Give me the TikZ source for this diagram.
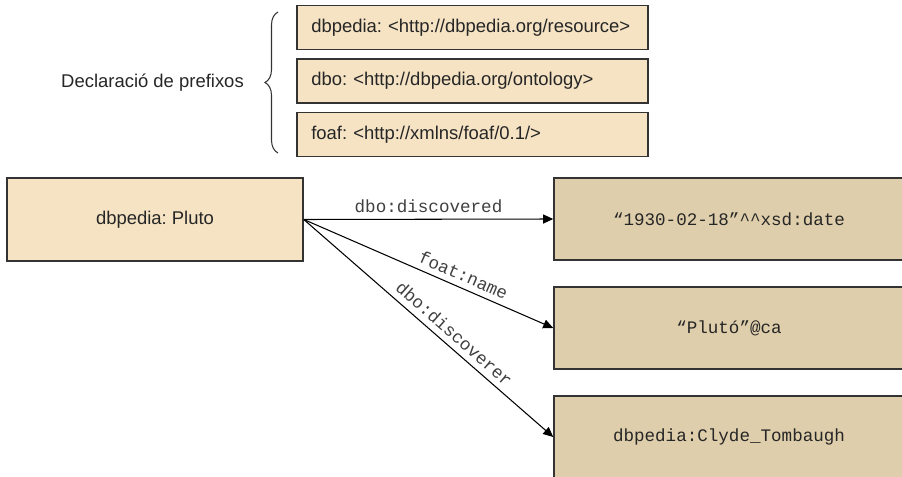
\documentclass[tikz,border=0pt]{standalone}
\usepackage{fontspec}
\setmainfont{Liberation Sans}
\setmonofont{Liberation Mono}
\usepackage{tikz}
\usetikzlibrary{arrows.meta,decorations.pathreplacing}
\definecolor{lightbeige}{HTML}{F5E3C4}
\definecolor{darkbeige}{HTML}{DFCEAB}
\frenchspacing

\begin{document}
\begin{tikzpicture}[font=\fontsize{10.5}{12}\selectfont,
  prefixbox/.style={draw=black!80,line width=0.9pt,fill=lightbeige,text=black!85,
    minimum height=0.88cm,text width=6.45cm,align=left,inner xsep=0.285cm},
  resource/.style={draw=black!80,line width=0.9pt,fill=lightbeige,text=black!85,
    minimum width=5.92cm,minimum height=1.66cm},
  literal/.style={draw=black!80,line width=0.9pt,fill=darkbeige,text=black!85,
    minimum width=7cm,minimum height=1.64cm,font=\ttfamily},
  prop/.style={font=\ttfamily,text=black!75},
  link/.style={line width=0.6pt,-{Triangle[length=0.2cm,width=0.18cm]}}]
\useasboundingbox (0,0) rectangle (18.04,9.52);
% prefixes
\node[prefixbox] (pfx1) at (9.45,8.97) {dbpedia: <http://dbpedia.org/resource>};
\node[prefixbox] (pfx2) at (9.45,7.90) {dbo: <http://dbpedia.org/ontology>};
\node[prefixbox] (pfx3) at (9.45,6.83) {foaf: <http://xmlns/foaf/0.1/>};
\coordinate (brbot) at (5.56,6.46);
\coordinate (brtop) at (5.56,9.28);
\draw[decorate,decoration={brace,amplitude=0.26cm},line width=0.6pt,black!80] (brbot) -- (brtop);
\node[text=black!85] (decl) at (3.05,7.86) {Declaració de prefixos};
% triples
\node[resource] (pluto) at (3.1,5.13) {dbpedia: Pluto};
\node[literal] (date) at (14.58,5.14) {“1930-02-18”\textasciicircum\textasciicircum xsd:date};
\node[literal] (name) at (14.58,2.96) {“Plutó”@ca};
\node[literal] (tomb) at (14.58,0.78) {dbpedia:Clyde\_Tombaugh};
\draw[link] (pluto.east) -- (date.west) node[prop,midway,above] {dbo:discovered};
\draw[link] (pluto.east) -- (name.west) node[prop,pos=0.62,sloped,above] {foat:name};
\draw[link] (pluto.east) -- (tomb.west) node[prop,pos=0.57,sloped,above] {dbo:discoverer};
\end{tikzpicture}
\end{document}
